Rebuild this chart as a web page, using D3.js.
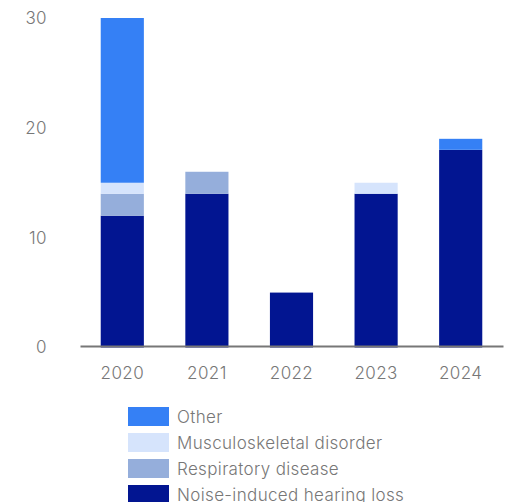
<!DOCTYPE html>
<html><head><meta charset="utf-8">
<script src="https://cdn.jsdelivr.net/npm/d3@7"></script>
<style>body{margin:0;background:#fff}svg{display:block}</style>
</head><body>
<svg id="c" width="510" height="502"></svg>
<script>
const years = ["2020","2021","2022","2023","2024"];
const noise = [12, 14, 5, 14, 18];
const respiratory = [2, 2, 0, 0, 0];
const musculoskeletal = [1, 0, 0, 1, 0];
const other = [15, 0, 0, 0, 1];
const seriesNames = ["Noise-induced hearing loss","Respiratory disease","Musculoskeletal disorder","Other"];
const colors = ["#021591","#95AEDB","#D6E4FC","#3580F5"];
const yTicks = [0,10,20,30];

const svg = d3.select("#c");
const font = "Inter, 'Open Sans', sans-serif";
const x = d3.scaleBand().domain(years).range([80,503]).paddingInner(0.49).paddingOuter(0.245);
const y = d3.scaleLinear().domain([0,30]).range([347.5,18]);

const rows = years.map((yr,i)=>({year:yr, s0:noise[i], s1:respiratory[i], s2:musculoskeletal[i], s3:other[i]}));
const stack = d3.stack().keys(["s0","s1","s2","s3"])(rows);

svg.append("g").selectAll("g").data(stack).join("g")
  .attr("fill",(d,i)=>colors[i])
  .selectAll("rect").data(d=>d).join("rect")
  .attr("x",d=>x(d.data.year)).attr("width",x.bandwidth())
  .attr("y",d=>y(d[1])).attr("height",d=>y(d[0])-y(d[1]));

// y axis labels
const ya = svg.append("g").attr("transform","translate(47,0)")
  .call(d3.axisLeft(y).tickValues(yTicks).tickSize(0).tickPadding(0));
ya.select(".domain").remove();
ya.selectAll("text").attr("font-family",font).attr("font-weight",300).attr("font-size",17).attr("letter-spacing",0.4).attr("fill","#777");

// x axis
const xa = svg.append("g").attr("transform","translate(0,346)")
  .call(d3.axisBottom(x).tickSize(0).tickPadding(21));
xa.select(".domain").attr("stroke","#777").attr("stroke-width",2);
xa.selectAll("text").attr("font-family",font).attr("font-weight",300).attr("font-size",17).attr("letter-spacing",0.4).attr("fill","#777");

// legend
const legOrder = [3,2,1,0];
const lg = svg.append("g").selectAll("g").data(legOrder).join("g")
  .attr("transform",(d,i)=>`translate(128,${407+i*26})`);
lg.append("rect").attr("width",41).attr("height",19).attr("fill",d=>colors[d]);
lg.append("text").attr("x",49).attr("y",10).attr("dy","0.35em")
  .attr("font-family",font).attr("font-weight",300).attr("font-size",17).attr("letter-spacing",0.35).attr("fill","#777")
  .text(d=>seriesNames[d]);
</script>
</body></html>
